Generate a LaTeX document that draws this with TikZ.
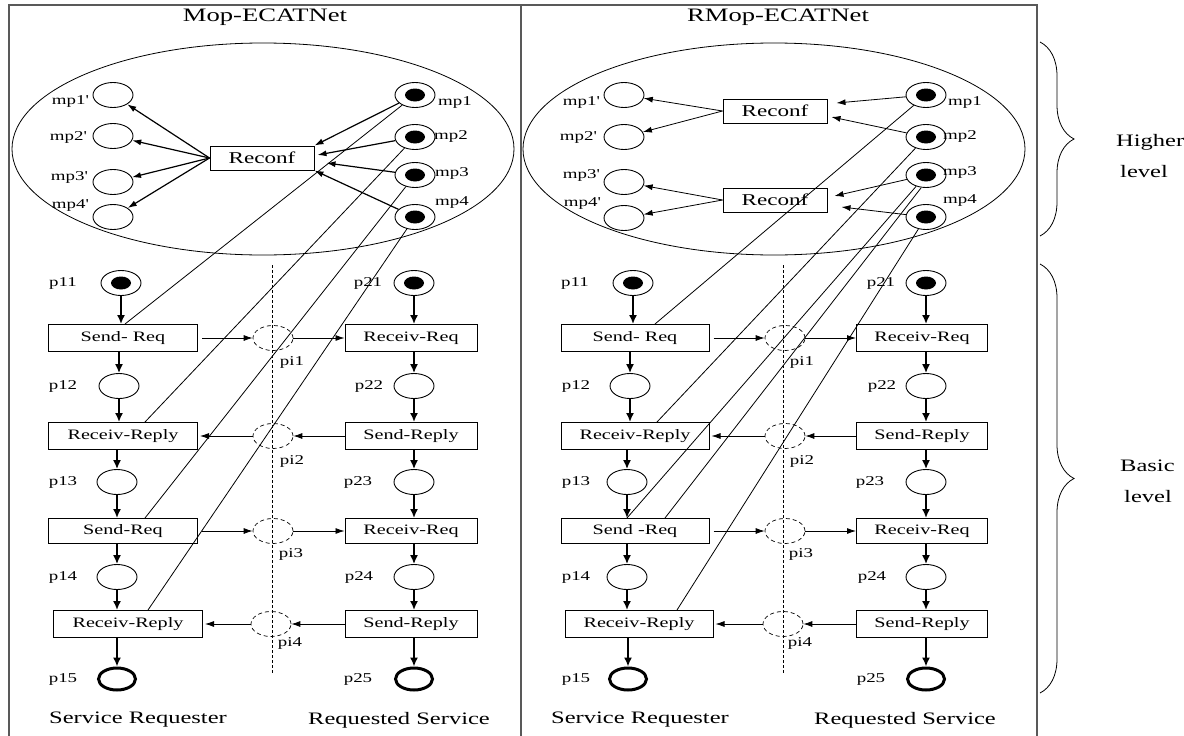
\documentclass[tikz,border=0pt]{standalone}
\usepackage{fontspec}
\setmainfont{Liberation Serif}[FakeStretch=1.4]
\usetikzlibrary{arrows.meta,shapes.geometric,decorations.pathreplacing}
\newcommand{\fsz}[1]{\fontsize{#1}{#1}\selectfont}

\begin{document}
\begin{tikzpicture}[x=1pt, y=-1pt,
    place/.style={ellipse, draw, line width=0.9pt, minimum width=40pt, minimum height=25pt, inner sep=0pt},
    marked/.style={place, path picture={\fill (path picture bounding box.center) ellipse [x radius=10pt, y radius=6.5pt];}},
    endplace/.style={place, line width=3pt, minimum width=37pt, minimum height=22pt},
    iplace/.style={place, line width=0.7pt, dash pattern=on 4pt off 3pt},
    trans/.style={rectangle, draw, line width=1pt, minimum width=149pt, minimum height=27pt, inner sep=0pt, font=\fsz{14.4}},
    rtrans/.style={trans, minimum width=132pt},
    reconf/.style={trans, minimum width=104pt, minimum height=24pt, font=\fsz{16.5}},
    flow/.style={-{Latex[length=9pt,width=8pt]}, line width=1.6pt},
    msg/.style={-{Latex[length=9pt,width=6pt]}, line width=0.8pt},
    conf/.style={-{Latex[length=9pt,width=6pt]}, line width=1.2pt},
    link/.style={line width=0.8pt},
    divide/.style={line width=0.8pt, dash pattern=on 3pt off 2pt},
    lbl/.style={font=\fsz{13.5}, inner sep=0pt},
    title/.style={font=\fsz{19}, inner sep=0pt},
    side/.style={font=\fsz{17.5}, inner sep=0pt}
]
\useasboundingbox (0,0) rectangle (1184,736);

% frame
\draw[black!65, line width=1.2pt] (9,740) -- (9,5) -- (1037,5) -- (1037,740);
\draw[black!65, line width=1.2pt] (521,5) -- (521,740);
\node[title] (Ltitle) at (265,17) {Mop-ECATNet};
\node[title] (Rtitle) at (778,17) {RMop-ECATNet};

% ---------- Mop-ECATNet, higher level
\draw[link] (263,149) ellipse [x radius=251, y radius=106];
\node[place] (Lq1) at (113,95) {};
\node[place] (Lq2) at (113,136) {};
\node[place] (Lq3) at (113,182) {};
\node[place] (Lq4) at (113,217) {};
\node[lbl] (Lq1t) at (70,101) {mp1\textquotesingle};
\node[lbl] (Lq2t) at (68,137) {mp2\textquotesingle};
\node[lbl] (Lq3t) at (69,177) {mp3\textquotesingle};
\node[lbl] (Lq4t) at (70,205) {mp4\textquotesingle};
\node[marked] (Lm1) at (415,95) {};
\node[marked] (Lm2) at (415,137) {};
\node[marked] (Lm3) at (415,175) {};
\node[marked] (Lm4) at (415,217) {};
\node[lbl] (Lm1t) at (455,102) {mp1};
\node[lbl] (Lm2t) at (451,136) {mp2};
\node[lbl] (Lm3t) at (452,173) {mp3};
\node[lbl] (Lm4t) at (452,202) {mp4};
\node[reconf] (Lrc) at (262,158) {Reconf};

\draw[conf] (Lrc.west) -- (Lq1);
\draw[conf] (Lrc.west) -- (Lq2);
\draw[conf] (Lrc.west) -- (Lq3);
\draw[conf] (Lrc.west) -- (Lq4);
\draw[conf] (Lm1) -- (Lrc.north east);
\draw[conf] (Lm2) -- ([xshift=3pt,yshift=3pt]Lrc.east);
\draw[conf] (Lm3) -- ([xshift=12pt,yshift=-5pt]Lrc.east);
\draw[conf] (Lm4) -- (Lrc.south east);

% ---------- Mop-ECATNet, basic level
\draw[divide] (272,265) -- (272,673);
\node[marked] (Lp11) at (121,283) {};
\node[trans] (Lt11) at (123,338) {Send- Req};
\node[place] (Lp12) at (119,386) {};
\node[trans] (Lt12) at (123,436) {Receiv-Reply};
\node[place] (Lp13) at (117,482) {};
\node[trans, minimum height=25pt] (Lt13) at (123,531) {Send-Req};
\node[place] (Lp14) at (117,577) {};
\node[trans] (Lt14) at (128,624) {Receiv-Reply};
\node[endplace] (Lp15) at (117,679) {};
\node[lbl] (Lp11t) at (63,283) {p11};
\node[lbl] (Lp12t) at (63,386) {p12};
\node[lbl] (Lp13t) at (63,482) {p13};
\node[lbl] (Lp14t) at (63,577) {p14};
\node[lbl] (Lp15t) at (63,679) {p15};

\node[marked] (Lp21) at (414,283) {};
\node[rtrans] (Lt21) at (411,338) {Receiv-Req};
\node[place] (Lp22) at (414,386) {};
\node[rtrans] (Lt22) at (411,436) {Send-Reply};
\node[place] (Lp23) at (414,482) {};
\node[rtrans, minimum height=25pt] (Lt23) at (411,531) {Receiv-Req};
\node[place] (Lp24) at (414,577) {};
\node[rtrans] (Lt24) at (411,624) {Send-Reply};
\node[endplace] (Lp25) at (414,679) {};
\node[lbl] (Lp21t) at (368,283) {p21};
\node[lbl] (Lp22t) at (369,386) {p22};
\node[lbl] (Lp23t) at (358,482) {p23};
\node[lbl] (Lp24t) at (359,577) {p24};
\node[lbl] (Lp25t) at (358,679) {p25};

\node[iplace] (Li1) at (273,338) {};
\node[iplace] (Li2) at (273,436) {};
\node[iplace] (Li3) at (273,531) {};
\node[iplace] (Li4) at (271,624) {};
\node[lbl] (Li1t) at (292,362) {pi1};
\node[lbl] (Li2t) at (292,461) {pi2};
\node[lbl] (Li3t) at (291,554) {pi3};
\node[lbl] (Li4t) at (290,643) {pi4};

\node[side] (Lreq) at (138,720) {Service Requester};
\node[side] (Lsrv) at (399,720) {Requested Service};

\draw[flow] (Lp11) -- (Lp11 |- Lt11.north);
\draw[flow] (Lt11.south -| Lp12) -- (Lp12);
\draw[flow] (Lp12) -- (Lp12 |- Lt12.north);
\draw[flow] (Lt12.south -| Lp13) -- (Lp13);
\draw[flow] (Lp13) -- (Lp13 |- Lt13.north);
\draw[flow] (Lt13.south -| Lp14) -- (Lp14);
\draw[flow] (Lp14) -- (Lp14 |- Lt14.north);
\draw[flow] (Lt14.south -| Lp15) -- (Lp15);
\draw[flow] (Lp21) -- (Lp21 |- Lt21.north);
\draw[flow] (Lt21.south -| Lp22) -- (Lp22);
\draw[flow] (Lp22) -- (Lp22 |- Lt22.north);
\draw[flow] (Lt22.south -| Lp23) -- (Lp23);
\draw[flow] (Lp23) -- (Lp23 |- Lt23.north);
\draw[flow] (Lt23.south -| Lp24) -- (Lp24);
\draw[flow] (Lp24) -- (Lp24 |- Lt24.north);
\draw[flow] (Lt24.south -| Lp25) -- (Lp25);

\draw[msg] ([xshift=4pt]Lt11.east) -- (Li1);
\draw[msg] (Li1) -- (Lt21.west);
\draw[msg] (Lt22.west) -- (Li2);
\draw[msg] (Li2) -- ([xshift=2pt]Lt12.east);
\draw[msg] ([xshift=4pt]Lt13.east) -- (Li3);
\draw[msg] (Li3) -- (Lt23.west);
\draw[msg] (Lt24.west) -- (Li4);
\draw[msg] (Li4) -- ([xshift=2pt]Lt14.east);

\draw[link] (Lm1) -- ([xshift=2pt]Lt11.north);
\draw[link] (Lm2) -- ([xshift=22pt]Lt12.north);
\draw[link] (Lm3) -- ([xshift=22pt]Lt13.north);
\draw[link] (Lm4) -- ([xshift=20pt]Lt14.north);

% ---------- RMop-ECATNet, higher level
\draw[link] (774,149) ellipse [x radius=251, y radius=106];
\node[place] (Rq1) at (624,95) {};
\node[place] (Rq2) at (624,137) {};
\node[place] (Rq3) at (624,182) {};
\node[place] (Rq4) at (624,218) {};
\node[lbl] (Rq1t) at (581,102) {mp1\textquotesingle};
\node[lbl] (Rq2t) at (578,137) {mp2\textquotesingle};
\node[lbl] (Rq3t) at (581,175) {mp3\textquotesingle};
\node[lbl] (Rq4t) at (582,203) {mp4\textquotesingle};
\node[marked] (Rm1) at (926,95) {};
\node[marked] (Rm2) at (926,137) {};
\node[marked] (Rm3) at (926,175) {};
\node[marked] (Rm4) at (926,217) {};
\node[lbl] (Rm1t) at (965,102) {mp1};
\node[lbl] (Rm2t) at (960,136) {mp2};
\node[lbl] (Rm3t) at (960,172) {mp3};
\node[lbl] (Rm4t) at (960,200) {mp4};
\node[reconf] (Rrc1) at (775,111) {Reconf};
\node[reconf] (Rrc2) at (775,200) {Reconf};

\draw[msg] (Rrc1.west) -- (Rq1);
\draw[msg] (Rrc1.west) -- (Rq2);
\draw[msg] (Rrc2.west) -- (Rq3);
\draw[msg] (Rrc2.west) -- (Rq4);
\draw[msg] (Rm1) -- ([xshift=9pt,yshift=8pt]Rrc1.east);
\draw[msg] (Rm2) -- ([xshift=4pt,yshift=-6pt]Rrc1.east);
\draw[msg] (Rm3) -- ([xshift=7pt,yshift=4pt]Rrc2.east);
\draw[msg] (Rm4) -- ([xshift=14pt,yshift=-7pt]Rrc2.east);

% ---------- RMop-ECATNet, basic level
\draw[divide] (783,265) -- (783,673);
\node[marked] (Rp11) at (633,283) {};
\node[trans, minimum width=148pt] (Rt11) at (635,338) {Send- Req};
\node[place] (Rp12) at (630,386) {};
\node[trans, minimum width=148pt] (Rt12) at (635,436) {Receiv-Reply};
\node[place] (Rp13) at (627,482) {};
\node[trans, minimum width=148pt, minimum height=25pt] (Rt13) at (635,531) {Send -Req};
\node[place] (Rp14) at (627,577) {};
\node[trans, minimum width=148pt] (Rt14) at (639,624) {Receiv-Reply};
\node[endplace] (Rp15) at (628,679) {};
\node[lbl] (Rp11t) at (575,283) {p11};
\node[lbl] (Rp12t) at (576,386) {p12};
\node[lbl] (Rp13t) at (576,482) {p13};
\node[lbl] (Rp14t) at (576,577) {p14};
\node[lbl] (Rp15t) at (576,679) {p15};

\node[marked] (Rp21) at (926,283) {};
\node[rtrans, minimum width=131pt] (Rt21) at (922,338) {Receiv-Req};
\node[place] (Rp22) at (926,386) {};
\node[rtrans, minimum width=131pt] (Rt22) at (922,436) {Send-Reply};
\node[place] (Rp23) at (926,482) {};
\node[rtrans, minimum width=131pt, minimum height=25pt] (Rt23) at (922,531) {Receiv-Req};
\node[place] (Rp24) at (926,577) {};
\node[rtrans, minimum width=131pt] (Rt24) at (922,624) {Send-Reply};
\node[endplace] (Rp25) at (926,679) {};
\node[lbl] (Rp21t) at (881,283) {p21};
\node[lbl] (Rp22t) at (882,386) {p22};
\node[lbl] (Rp23t) at (870,482) {p23};
\node[lbl] (Rp24t) at (872,577) {p24};
\node[lbl] (Rp25t) at (871,679) {p25};

\node[iplace] (Ri1) at (785,338) {};
\node[iplace] (Ri2) at (785,436) {};
\node[iplace] (Ri3) at (785,531) {};
\node[iplace] (Ri4) at (783,624) {};
\node[lbl] (Ri1t) at (802,362) {pi1};
\node[lbl] (Ri2t) at (802,461) {pi2};
\node[lbl] (Ri3t) at (801,554) {pi3};
\node[lbl] (Ri4t) at (800,643) {pi4};

\node[side] (Rreq) at (640,720) {Service Requester};
\node[side] (Rsrv) at (905,720) {Requested Service};

\draw[flow] (Rp11) -- (Rp11 |- Rt11.north);
\draw[flow] (Rt11.south -| Rp12) -- (Rp12);
\draw[flow] (Rp12) -- (Rp12 |- Rt12.north);
\draw[flow] (Rt12.south -| Rp13) -- (Rp13);
\draw[flow] (Rp13) -- (Rp13 |- Rt13.north);
\draw[flow] (Rt13.south -| Rp14) -- (Rp14);
\draw[flow] (Rp14) -- (Rp14 |- Rt14.north);
\draw[flow] (Rt14.south -| Rp15) -- (Rp15);
\draw[flow] (Rp21) -- (Rp21 |- Rt21.north);
\draw[flow] (Rt21.south -| Rp22) -- (Rp22);
\draw[flow] (Rp22) -- (Rp22 |- Rt22.north);
\draw[flow] (Rt22.south -| Rp23) -- (Rp23);
\draw[flow] (Rp23) -- (Rp23 |- Rt23.north);
\draw[flow] (Rt23.south -| Rp24) -- (Rp24);
\draw[flow] (Rp24) -- (Rp24 |- Rt24.north);
\draw[flow] (Rt24.south -| Rp25) -- (Rp25);

\draw[msg] ([xshift=4pt]Rt11.east) -- (Ri1);
\draw[msg] (Ri1) -- (Rt21.west);
\draw[msg] (Rt22.west) -- (Ri2);
\draw[msg] (Ri2) -- ([xshift=2pt]Rt12.east);
\draw[msg] ([xshift=4pt]Rt13.east) -- (Ri3);
\draw[msg] (Ri3) -- (Rt23.west);
\draw[msg] (Rt24.west) -- (Ri4);
\draw[msg] (Ri4) -- ([xshift=2pt]Rt14.east);

\draw[link] (Rm1) -- ([xshift=20pt]Rt11.north);
\draw[link] (Rm2) -- ([xshift=22pt]Rt12.north);
\draw[link] (Rm3) -- (Rp13 |- Rt13.north);
\draw[link] ([xshift=-5pt]Rm3.south) -- ([xshift=30pt]Rt13.north);
\draw[link] (Rm4) -- ([xshift=38pt]Rt14.north);

% ---------- levels
\draw[link, decorate, decoration={brace, amplitude=34pt, aspect=0.5}] (1040,42) -- (1040,236);
\draw[link, decorate, decoration={brace, amplitude=34pt, aspect=0.5}] (1040,264) -- (1040,693);
\node[side, anchor=west, align=left, font=\fontsize{17.5}{31}\selectfont] (high) at (1116,156) {Higher\\ \hspace*{4pt}level};
\node[side, anchor=west, align=left, font=\fontsize{17.5}{31}\selectfont] (basic) at (1120,481) {Basic\\ \hspace*{4pt}level};

\end{tikzpicture}
\end{document}
